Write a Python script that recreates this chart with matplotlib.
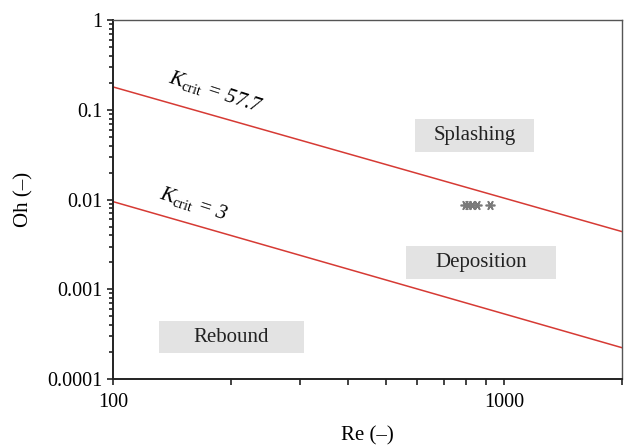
import numpy as np
import matplotlib.pyplot as plt
from matplotlib.patches import Rectangle
from matplotlib.ticker import LogLocator, FixedLocator, NullFormatter, FuncFormatter

# Regime boundaries (end points)
line_re = [100, 2000]
splash_oh = [0.18, 0.0044]
rebound_oh = [0.0095, 0.000224]

# Measured droplets
drop_re = [795, 809, 828, 853, 921]
drop_oh = [0.0088, 0.0088, 0.0088, 0.0088, 0.0088]

regions = ['Splashing', 'Deposition', 'Rebound']

plt.rcParams['font.family'] = ['Liberation Serif', 'DejaVu Serif']
plt.rcParams['mathtext.fontset'] = 'custom'
plt.rcParams['mathtext.it'] = 'Liberation Serif:italic'
plt.rcParams['mathtext.rm'] = 'Liberation Serif'

fig = plt.figure(figsize=(6.27, 4.45), dpi=100)
ax = fig.add_axes([0.180, 0.148, 0.812, 0.807])

red = '#d63a34'
ax.plot(line_re, splash_oh, color=red, lw=1.1)
ax.plot(line_re, rebound_oh, color=red, lw=1.1)
ax.plot(drop_re, drop_oh, ls='none', marker=(6, 2, 90), ms=7, mew=1.2,
        color='#7a7a7a')

ax.set_xscale('log')
ax.set_yscale('log')
ax.set_xlim(100, 2000)
ax.set_ylim(0.0001, 1)

# Labels on the boundary lines
ax.text(183, 0.158, r'$K_{\mathrm{crit}}$ = 57.7', fontsize=15, style='italic',
        rotation=-18, ha='center', va='center', rotation_mode='anchor')
ax.text(161, 0.0089, r'$K_{\mathrm{crit}}$ = 3', fontsize=15, style='italic',
        rotation=-18, ha='center', va='center', rotation_mode='anchor')

# Region boxes (axes fractions)
boxes = [(0.593, 0.632, 0.234, 0.092),
         (0.576, 0.279, 0.294, 0.091),
         (0.090, 0.072, 0.285, 0.090)]
for name, (x0, y0, w, h) in zip(regions, boxes):
    ax.add_patch(Rectangle((x0, y0), w, h, transform=ax.transAxes,
                           facecolor='#e3e3e3', edgecolor='none', zorder=1))
    ax.text(x0 + w / 2, y0 + h / 2, name, transform=ax.transAxes,
            fontsize=15, ha='center', va='center', color='#222222', zorder=2)

# Ticks
ax.xaxis.set_major_locator(FixedLocator([100, 1000]))
ax.xaxis.set_minor_locator(FixedLocator([200, 300, 400, 500, 600, 700, 800, 900, 2000]))
ax.xaxis.set_major_formatter(FuncFormatter(lambda v, p: '%g' % v))
ax.xaxis.set_minor_formatter(NullFormatter())
ax.yaxis.set_major_locator(LogLocator(base=10, numticks=10))
ax.yaxis.set_minor_locator(LogLocator(base=10, subs=np.arange(2, 10), numticks=10))
ax.yaxis.set_major_formatter(FuncFormatter(lambda v, p: '%g' % v))
ax.yaxis.set_minor_formatter(NullFormatter())

ax.tick_params(which='both', direction='out', top=False, right=False,
               labelsize=14.5, color='#222222', width=1.2)
ax.tick_params(axis='x', which='both', length=4, pad=6)
ax.tick_params(axis='y', which='major', length=4.5, pad=3)
ax.tick_params(axis='y', which='minor', length=3)

for side in ['left', 'bottom']:
    ax.spines[side].set_linewidth(1.4)
    ax.spines[side].set_color('#222222')
for side in ['top', 'right']:
    ax.spines[side].set_linewidth(1.0)
    ax.spines[side].set_color('#555555')

ax.set_xlabel('Re (–)', fontsize=15, labelpad=10)
ax.set_ylabel('Oh (–)', fontsize=15, labelpad=10)

fig.savefig('out.png', dpi=100)
plt.close(fig)
